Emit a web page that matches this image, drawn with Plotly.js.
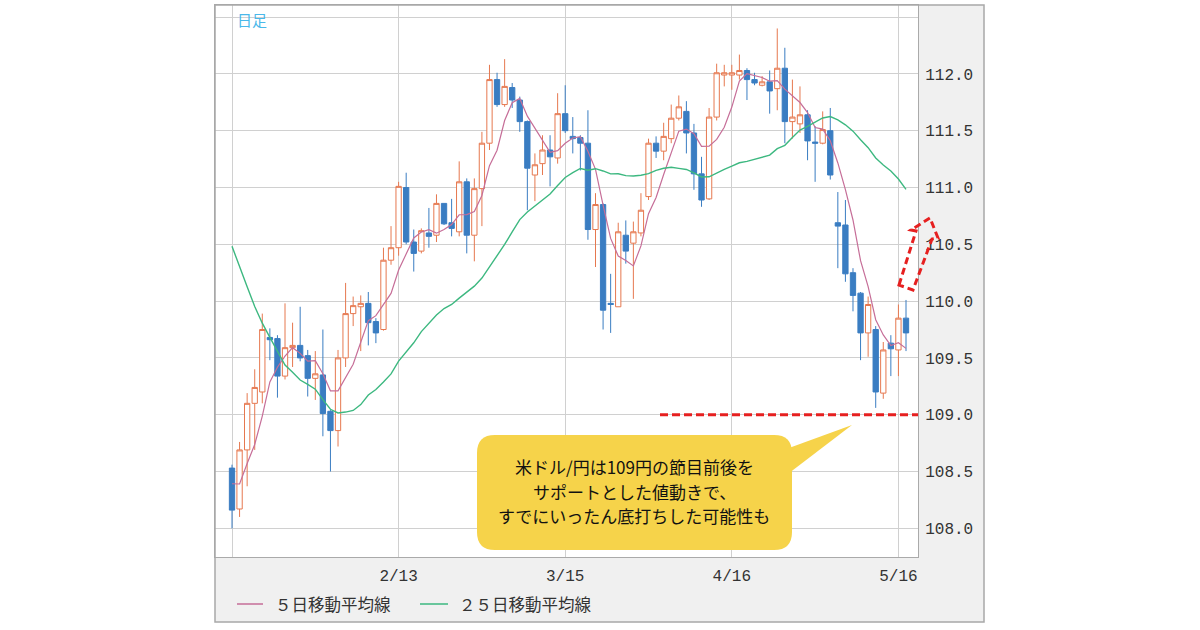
<!DOCTYPE html>
<html>
<head>
<meta charset="utf-8">
<script src="https://cdn.plot.ly/plotly-3.0.1.min.js"></script>
<style>
  html, body { margin: 0; padding: 0; background: #ffffff; }
  #chart { width: 1200px; height: 630px; }
</style>
</head>
<body>
<div id="chart"></div>
<script>
// ---- Data (USD/JPY daily candles) ----
const opens  = [108.53,108.17,108.69,109.10,109.20,109.68,109.67,109.34,109.59,109.61,
                109.52,109.32,109.35,109.03,108.86,109.50,109.89,109.95,109.98,109.82,
                109.75,110.36,110.47,111.00,110.52,110.44,110.60,110.58,110.86,110.69,
                110.61,111.05,110.58,110.99,111.39,111.95,111.73,111.88,111.77,111.58,
                111.11,111.21,111.33,111.26,111.65,111.45,111.44,111.39,110.63,110.85,
                109.98,109.95,110.58,110.51,110.60,110.92,111.39,111.32,111.43,111.61,
                111.67,111.48,111.12,110.90,111.62,111.99,111.99,111.99,112.03,111.95,
                111.90,111.93,111.87,112.05,111.58,111.56,111.64,111.40,111.39,111.50,
                110.69,110.67,110.25,110.07,109.72,109.75,109.19,109.63,109.57,109.85];
const highs  = [108.56,108.76,109.19,109.40,109.89,109.76,109.70,109.98,109.81,109.95,
                109.57,109.56,109.75,109.04,109.57,110.16,110.04,110.05,110.08,109.85,
                110.47,110.66,111.05,111.13,110.63,110.64,110.82,110.94,110.86,110.90,
                111.23,111.08,111.08,111.49,112.08,112.01,112.13,111.92,111.80,111.59,
                111.30,111.46,111.46,111.83,111.90,111.62,111.46,111.68,110.95,110.86,
                110.24,110.69,110.71,110.70,110.95,111.43,111.45,111.57,111.73,111.81,
                111.76,111.56,111.27,111.70,112.09,112.08,112.08,112.17,112.05,112.01,
                111.98,112.03,112.40,112.23,111.95,111.89,111.68,111.54,111.67,111.70,
                110.96,110.89,110.29,110.08,110.04,109.78,109.64,109.70,109.97,110.01];
const lows   = [108.00,108.10,108.37,108.69,109.10,109.48,109.15,109.31,109.42,109.47,
                109.16,109.13,108.81,108.50,108.72,109.42,109.78,109.56,109.61,109.63,
                109.74,110.32,110.40,110.50,110.26,110.42,110.47,110.52,110.67,110.57,
                110.57,110.42,110.35,110.66,111.33,111.71,111.71,111.70,111.49,110.80,
                110.88,111.11,111.01,111.21,111.48,111.30,111.15,110.54,110.30,109.75,
                109.72,109.95,110.33,110.02,110.57,110.89,111.26,111.24,111.39,111.59,
                111.30,110.98,110.83,110.89,111.59,111.89,111.86,111.95,111.77,111.90,
                111.89,111.65,111.68,111.39,111.43,111.48,111.24,111.05,111.38,111.07,
                110.29,110.17,109.91,109.48,109.51,109.06,109.14,109.34,109.34,109.56];
const closes = [108.16,108.69,109.10,109.24,109.75,109.66,109.34,109.59,109.61,109.50,
                109.32,109.36,109.01,108.86,109.50,109.89,109.96,109.98,109.81,109.72,
                110.36,110.47,111.01,110.52,110.42,110.62,110.57,110.86,110.68,110.64,
                111.05,110.58,110.99,111.39,111.95,111.73,111.89,111.77,111.58,111.17,
                111.20,111.33,111.27,111.65,111.50,111.43,111.39,110.63,110.85,109.92,
                109.97,110.61,110.44,110.61,110.80,111.39,111.32,111.45,111.61,111.71,
                111.48,111.12,110.89,111.62,112.01,112.01,112.01,112.03,111.95,111.92,
                111.93,111.85,112.05,111.58,111.62,111.64,111.41,111.39,111.51,111.11,
                110.66,110.24,110.05,109.72,109.97,109.20,109.57,109.58,109.85,109.72];
// closes before the first visible candle (estimated so the averages start where the picture's lines start)
const priorCloses = [113.3,113.4,113.6,113.4,112.8,112.5,112.5,111.2,111.2,110.3,
                     110.4,111.3,111.0,110.3,109.7,109.6,108.7,107.7,108.5,108.7,
                     108.7,108.2,108.4,108.5];
const tickIdx    = [0, 22, 44, 66, 88];
const tickLabels = ['', '2/13', '3/15', '4/16', '5/16'];
const priceTicks = [108.0,108.5,109.0,109.5,110.0,110.5,111.0,111.5,112.0,112.5];
const supportLevel = 109.0;
const legendNames = ['５日移動平均線', '２５日移動平均線'];
const calloutLines = ['米ドル/円は109円の節目前後を', 'サポートとした値動きで、', 'すでにいったん底打ちした可能性も'];

// ---- Derived ----
const xIdx = closes.map((_, i) => i);
function sma(n) {
  const all = priorCloses.concat(closes);
  return closes.map((_, i) => {
    const end = priorCloses.length + i;
    let s = 0;
    for (let k = end - n + 1; k <= end; k++) s += all[k];
    return s / n;
  });
}
const ma5 = sma(5);
const ma25 = sma(25);

// ---- Layout geometry (pixels) ----
const W = 1200, H = 630;
const L = 215, R = 918, T = 5, B = 557;
const frameR = 984, frameB = 622;
const pw = R - L, ph = B - T;
const px = x => (x - L) / pw;
const py = y => (B - y) / ph;
function path(points, close) {
  return points.map((p, i) => (i ? 'L' : 'M') + px(p[0]).toFixed(5) + ',' + py(p[1]).toFixed(5)).join(' ') + (close ? ' Z' : '');
}
function roundRect(x0, y0, x1, y1, r) {
  const f = (x, y) => px(x).toFixed(5) + ',' + py(y).toFixed(5);
  return 'M' + f(x0 + r, y0) + ' L' + f(x1 - r, y0) + ' Q' + f(x1, y0) + ' ' + f(x1, y0 + r) +
         ' L' + f(x1, y1 - r) + ' Q' + f(x1, y1) + ' ' + f(x1 - r, y1) +
         ' L' + f(x0 + r, y1) + ' Q' + f(x0, y1) + ' ' + f(x0, y1 - r) +
         ' L' + f(x0, y0 + r) + ' Q' + f(x0, y0) + ' ' + f(x0 + r, y0) + ' Z';
}

const upColor = '#e6784f', downColor = '#3a7dc2';
const ma5Color = '#c66e98', ma25Color = '#3db880';
const monoFont = 'Liberation Mono, DejaVu Sans Mono, monospace';
const jpFont = 'Noto Sans CJK JP, Noto Sans, sans-serif';

const traces = [
  {
    type: 'candlestick', x: xIdx, open: opens, high: highs, low: lows, close: closes,
    increasing: { line: { color: upColor, width: 1 }, fillcolor: '#ffffff' },
    decreasing: { line: { color: downColor, width: 1 }, fillcolor: downColor },
    whiskerwidth: 0, showlegend: false, hoverinfo: 'skip'
  },
  { type: 'scatter', mode: 'lines', x: xIdx, y: ma5, name: legendNames[0],
    line: { color: ma5Color, width: 1.2 }, showlegend: false, hoverinfo: 'skip' },
  { type: 'scatter', mode: 'lines', x: xIdx, y: ma25, name: legendNames[1],
    line: { color: ma25Color, width: 1.4 }, showlegend: false, hoverinfo: 'skip' }
];

const shapes = [
  // right axis panel & bottom panel
  { type: 'rect', xref: 'paper', yref: 'paper', x0: 1, x1: px(frameR), y0: 0, y1: 1,
    fillcolor: '#f0f0f0', line: { width: 0 }, layer: 'below' },
  { type: 'rect', xref: 'paper', yref: 'paper', x0: 0, x1: px(frameR), y0: py(frameB), y1: 0,
    fillcolor: '#f0f0f0', line: { width: 0 }, layer: 'below' },
  { type: 'rect', xref: 'paper', yref: 'paper', x0: 0, x1: px(frameR), y0: py(frameB), y1: 1,
    fillcolor: 'rgba(0,0,0,0)', line: { color: '#a8a8a8', width: 1.5 } },
  // support line at 109
  { type: 'line', xref: 'paper', yref: 'y', x0: px(660), x1: 1, y0: supportLevel, y1: supportLevel,
    line: { color: '#e62020', width: 3, dash: '8px,4px' } },
  // dashed arrow
  { type: 'path', xref: 'paper', yref: 'paper',
    path: path([[899, 285], [916, 231], [911, 230], [930, 218], [938, 238], [932, 239], [913, 290]], true),
    line: { color: '#e62020', width: 3, dash: '7px,4px' }, fillcolor: 'rgba(0,0,0,0)' },
  // callout bubble
  { type: 'path', xref: 'paper', yref: 'paper', path: path([[778, 452], [852, 425], [780, 480]], true),
    fillcolor: '#f6d34a', line: { width: 0 } },
  { type: 'path', xref: 'paper', yref: 'paper', path: roundRect(477, 435, 792, 550, 18),
    fillcolor: '#f6d34a', line: { width: 0 } },
  // legend lines
  { type: 'line', xref: 'paper', yref: 'paper', x0: px(237), x1: px(263), y0: py(604), y1: py(604),
    line: { color: ma5Color, width: 1.5 } },
  { type: 'line', xref: 'paper', yref: 'paper', x0: px(420), x1: px(448), y0: py(604), y1: py(604),
    line: { color: ma25Color, width: 1.5 } }
];

const annotations = [
  { xref: 'paper', yref: 'paper', x: px(235), y: py(19), xanchor: 'left', yanchor: 'middle',
    text: '日足', showarrow: false, font: { family: jpFont, size: 15, color: '#4ab8ea' } },
  { xref: 'paper', yref: 'paper', x: px(273), y: py(604), xanchor: 'left', yanchor: 'middle',
    text: legendNames[0], showarrow: false, font: { family: jpFont, size: 16.5, color: '#333333' } },
  { xref: 'paper', yref: 'paper', x: px(457), y: py(604), xanchor: 'left', yanchor: 'middle',
    text: legendNames[1], showarrow: false, font: { family: jpFont, size: 16.5, color: '#333333' } }
];
const calloutY = [466.5, 491, 515.5];
calloutLines.forEach((t, k) => {
  annotations.push({ xref: 'paper', yref: 'paper', x: px(634), y: py(calloutY[k]),
    xanchor: 'center', yanchor: 'middle', text: t, showarrow: false,
    font: { family: jpFont, size: 17, color: '#111111' } });
});

const layout = {
  width: W, height: H,
  margin: { l: L, r: W - R, t: T, b: H - B, pad: 0 },
  paper_bgcolor: '#ffffff', plot_bgcolor: '#ffffff',
  font: { family: jpFont, color: '#333333' },
  showlegend: false,
  boxgap: 0.3, boxgroupgap: 0,
  xaxis: {
    range: [-17 / 7.573, (R - 232) / 7.573],
    tickmode: 'array', tickvals: tickIdx, ticktext: tickLabels,
    showgrid: true, gridcolor: '#d0d0d0', gridwidth: 1, zeroline: false,
    showline: true, mirror: true, linecolor: '#aaaaaa', linewidth: 1,
    ticks: '', ticklabelstandoff: 4,
    tickfont: { family: monoFont, size: 16, color: '#333333' },
    rangeslider: { visible: false }, fixedrange: true
  },
  yaxis: {
    side: 'right',
    range: [108 - (B - 528.3) / 113.6, 108 + (528.3 - T) / 113.6],
    tickmode: 'array', tickvals: priceTicks,
    ticktext: priceTicks.map(v => v >= 112.25 ? '' : v.toFixed(1)),
    showgrid: true, gridcolor: '#d0d0d0', gridwidth: 1, zeroline: false,
    showline: true, mirror: true, linecolor: '#aaaaaa', linewidth: 1,
    ticks: '', ticklabelstandoff: 3,
    tickfont: { family: monoFont, size: 16, color: '#333333' },
    fixedrange: true
  },
  shapes: shapes,
  annotations: annotations
};

Plotly.newPlot('chart', traces, layout, { staticPlot: true, displayModeBar: false });
</script>
</body>
</html>
